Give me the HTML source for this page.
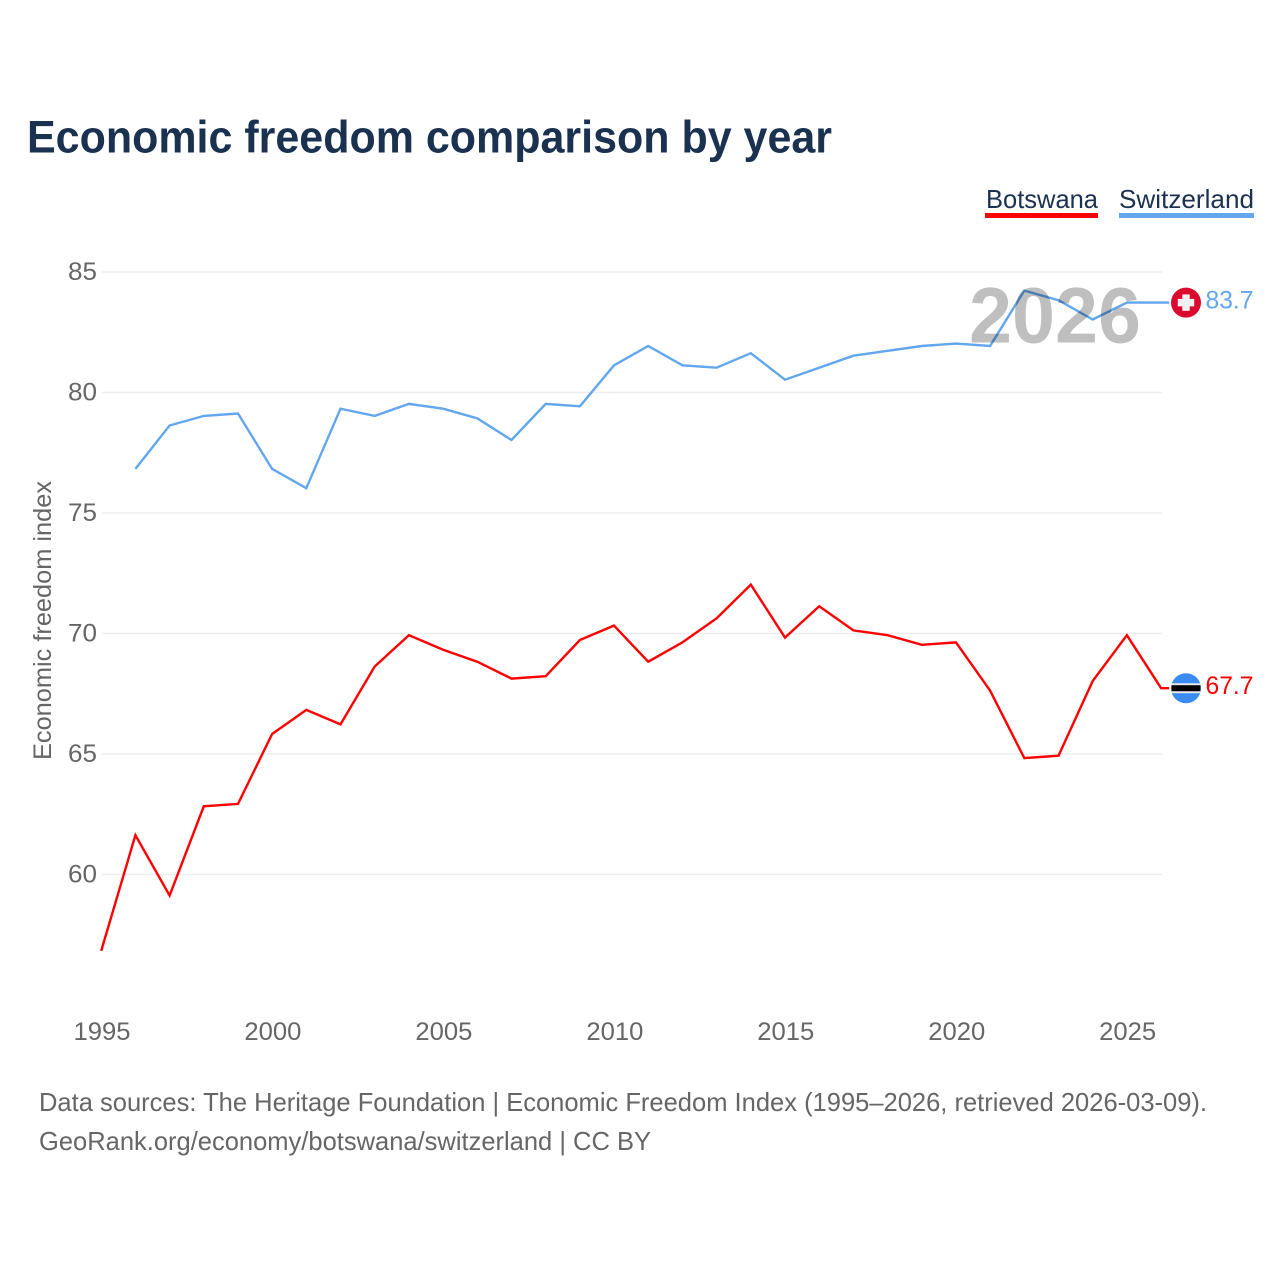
<!DOCTYPE html>
<html lang="en">
<head>
<meta charset="utf-8">
<title>Economic freedom comparison by year</title>
<style>
html,body{margin:0;padding:0;background:#fff;width:1280px;height:1280px;overflow:hidden}
svg{display:block}
text{font-family:"Liberation Sans",sans-serif}
</style>
</head>
<body>
<svg id="chart" xmlns="http://www.w3.org/2000/svg" width="1280" height="1280" viewBox="0 0 1280 1280">
  <rect x="0" y="0" width="1280" height="1280" fill="#ffffff"/>
  <text x="27" y="152.5" font-size="45" font-weight="700" fill="#1a3150" textLength="805" lengthAdjust="spacingAndGlyphs">Economic freedom comparison by year</text>

  <g>
    <text x="986" y="208" font-size="26" fill="#1a3150" textLength="112" lengthAdjust="spacingAndGlyphs">Botswana</text>
    <rect x="985" y="213" width="113" height="5" fill="#ff0000"/>
  </g>
  <g>
    <text x="1119" y="208" font-size="26" fill="#1a3150" textLength="135" lengthAdjust="spacingAndGlyphs">Switzerland</text>
    <rect x="1119" y="213" width="135" height="5" fill="#62a6ee"/>
  </g>

  <g id="grid"></g>
  <g id="yticks"></g>
  <g id="xticks"></g>
  <text transform="translate(51 620.5) rotate(-90)" text-anchor="middle" font-size="25" fill="#666666" textLength="279" lengthAdjust="spacingAndGlyphs">Economic freedom index</text>

  <g id="series" transform="translate(-0.8 -0.7)"></g>
  <text id="yearLabel" x="969" y="342.5" font-size="79" font-weight="700" fill="#000000" fill-opacity="0.25" textLength="172" lengthAdjust="spacingAndGlyphs"></text>
  <g id="ends"></g>

  <text x="39" y="1111" font-size="26" fill="#666666" textLength="1168" lengthAdjust="spacingAndGlyphs">Data sources: The Heritage Foundation | Economic Freedom Index (1995–2026, retrieved 2026-03-09).</text>
  <text x="39" y="1150" font-size="26" fill="#666666" textLength="612" lengthAdjust="spacingAndGlyphs">GeoRank.org/economy/botswana/switzerland | CC BY</text>
</svg>
<script>
const years = [1995,1996,1997,1998,1999,2000,2001,2002,2003,2004,2005,2006,2007,2008,2009,2010,2011,2012,2013,2014,2015,2016,2017,2018,2019,2020,2021,2022,2023,2024,2025,2026];
const botswana = [56.8,61.6,59.1,62.8,62.9,65.8,66.8,66.2,68.6,69.9,69.3,68.8,68.1,68.2,69.7,70.3,68.8,69.6,70.6,72.0,69.8,71.1,70.1,69.9,69.5,69.6,67.6,64.8,64.9,68.0,69.9,67.7];
const switzerland = [null,76.8,78.6,79.0,79.1,76.8,76.0,79.3,79.0,79.5,79.3,78.9,78.0,79.5,79.4,81.1,81.9,81.1,81.0,81.6,80.5,81.0,81.5,81.7,81.9,82.0,81.9,84.2,83.8,83.0,83.7,83.7];
const yTickValues = [60,65,70,75,80,85];
const xTickValues = [1995,2000,2005,2010,2015,2020,2025];

const NS = 'http://www.w3.org/2000/svg';
function xScale(year){ return 102 + (year - 1995) * 34.19; }
function yScale(value){ return 272 + (85 - value) * 24.1; }
function make(tag, attrs, parent){
  const el = document.createElementNS(NS, tag);
  for (const k in attrs) el.setAttribute(k, attrs[k]);
  parent.appendChild(el);
  return el;
}
const gridG = document.getElementById('grid');
const yG = document.getElementById('yticks');
const xG = document.getElementById('xticks');
const seriesG = document.getElementById('series');
const endsG = document.getElementById('ends');

yTickValues.forEach(function(v){
  const line = make('line', {x1:102, x2:1162, y1:yScale(v), y2:yScale(v), stroke:'#eeeeee', 'stroke-width':1.6}, gridG);
  
  
  const t = make('text', {x:97, y:yScale(v)+8, 'text-anchor':'end', 'font-size':25, fill:'#666666', textLength:29, lengthAdjust:'spacingAndGlyphs'}, yG);
  
  
  t.textContent = v;
});
xTickValues.forEach(function(v){
  const t = make('text', {x:xScale(v), y:1040, 'text-anchor':'middle', 'font-size':25, fill:'#666666', textLength:57, lengthAdjust:'spacingAndGlyphs'}, xG);
  
  
  t.textContent = v;
});

function drawSeries(values, color, name){
  const pts = [];
  values.forEach(function(v, i){
    if (v !== null) pts.push(xScale(years[i]).toFixed(1) + ',' + yScale(v).toFixed(1));
  });
  const last = values[values.length - 1];
  pts.push('1170,' + yScale(last).toFixed(1));
  const line = make('polyline', {points:pts.join(' '), fill:'none', stroke:color, 'stroke-width':2.4, 'stroke-linejoin':'miter'}, seriesG);
  
  
}
drawSeries(botswana, '#ff0000', 'botswana');
drawSeries(switzerland, '#62a6ee', 'switzerland');

document.getElementById('yearLabel').textContent = years[years.length - 1];

function endLabel(values, color, name){
  const v = values[values.length - 1];
  const t = make('text', {x:1205.5, y:yScale(v)+5, 'font-size':25, fill:color, textLength:48, lengthAdjust:'spacingAndGlyphs'}, endsG);
  
  
  t.textContent = v.toFixed(1);
}
function swissFlag(){
  const cy = yScale(switzerland[switzerland.length - 1]) - 0.7;
  const g = make('g', {}, endsG);
  
  
  make('circle', {cx:1186, cy:cy, r:15, fill:'#da0a2f'}, g);
  make('rect', {x:1177.8, y:cy-3.7, width:16.4, height:7.4, fill:'#f0f0f0'}, g);
  make('rect', {x:1182.3, y:cy-8.2, width:7.4, height:16.4, fill:'#f0f0f0'}, g);
}
function botswanaFlag(){
  const cy = yScale(botswana[botswana.length - 1]) - 0.7;
  const g = make('g', {}, endsG);
  
  
  make('circle', {cx:1186, cy:cy, r:15, fill:'#3a8cf2'}, g);
  make('rect', {x:1171.2, y:cy-5, width:29.6, height:10, fill:'#e8e8e8'}, g);
  make('rect', {x:1171.5, y:cy-3, width:29, height:6, fill:'#000000'}, g);
}
swissFlag();
botswanaFlag();
endLabel(switzerland, '#62a6ee', 'switzerland');
endLabel(botswana, '#ff0000', 'botswana');
</script>
</body>
</html>
